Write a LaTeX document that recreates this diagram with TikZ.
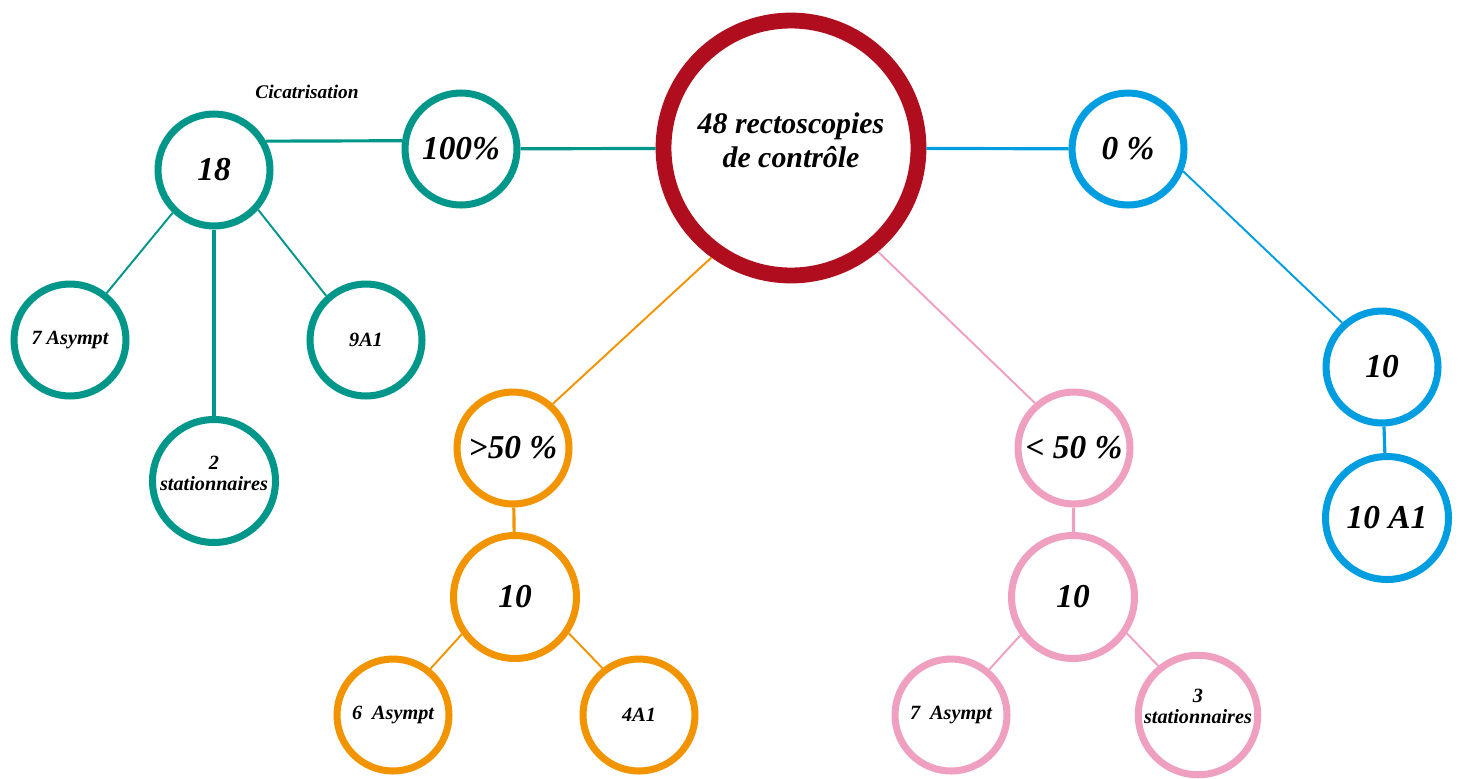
\documentclass[tikz,border=0pt]{standalone}
\usepackage{fontspec}
\setmainfont{Liberation Serif}
\definecolor{cteal}{RGB}{0,150,137}
\definecolor{cred}{RGB}{176,13,30}
\definecolor{cblue}{RGB}{0,158,224}
\definecolor{corange}{RGB}{242,148,0}
\definecolor{cpink}{RGB}{239,160,193}

\begin{document}
\begin{tikzpicture}[x=0.02cm,y=-0.02cm,
	every node/.style={black},
	bubble/.style={circle,draw,line width=4pt,minimum size=2.24cm,inner sep=0pt,align=center},
	bigbubble/.style={bubble,minimum size=2.46cm},
	bigtxt/.style={font=\fontsize{19}{22}\selectfont\bfseries\itshape},
	smalltxt/.style={font=\fontsize{11.5}{12}\selectfont\bfseries\itshape},
	link/.style={line width=1.1pt},
	stem/.style={line width=1.8pt}]
	\useasboundingbox (0,0) rectangle (1462,778);

	% centre
	\node[bubble,draw=cred,line width=9pt,minimum size=5.1cm,
		font=\fontsize{17}{19}\selectfont\bfseries\itshape] (main) at (791,148) {48 rectoscopies\\de contrôle\\[-10pt]};

	% cicatrisation
	\node[bubble,draw=cteal,bigtxt] (p100) at (461,149) {100\%};
	\node[bubble,draw=cteal,bigtxt] (n18) at (214,170) {18};
	\node[font=\fontsize{11}{13}\selectfont\bfseries\itshape] (cic) at (307,92) {Cicatrisation};
	\node[bubble,draw=cteal,smalltxt] (asy7) at (70,340) {7 Asympt};
	\node[bubble,draw=cteal,smalltxt] (a9) at (366,340) {9A1};
	\node[bigbubble,draw=cteal,smalltxt] (stat2) at (214,481) {2\\stationnaires\\[-3pt]};
	\draw[cteal,stem] (n18.29) -- (p100.172);
	\draw[cteal,stem] (p100) -- (main);
	\draw[cteal,link] (n18.226) -- (asy7.52);
	\draw[cteal,link] (n18.318) -- (a9.132);
	\draw[cteal,stem] (n18) -- (stat2);

	% 0 %
	\node[bubble,draw=cblue,bigtxt] (p0) at (1128,149) {0 \%};
	\node[bubble,draw=cblue,bigtxt] (b10) at (1382,367) {10};
	\node[bigbubble,draw=cblue,bigtxt] (b10a1) at (1387,518) {10 A1};
	\draw[cblue,stem] (main) -- (p0);
	\draw[cblue,link] (p0.-22) -- (b10.132);
	\draw[cblue,stem] (b10) -- (b10a1);

	% > 50 %
	\node[bubble,draw=corange,bigtxt] (sup50) at (513,448) {>50 \%};
	\node[bigbubble,draw=corange,bigtxt] (o10) at (515,597) {10};
	\node[bubble,draw=corange,smalltxt] (asy6) at (393,715) {6~~Asympt};
	\node[bubble,draw=corange,smalltxt] (a4) at (639,715) {4A1};
	\draw[corange,link] (main.234) -- (sup50.48);
	\draw[corange,stem] (sup50) -- (o10);
	\draw[corange,link] (o10.215) -- (asy6.51);
	\draw[corange,link] (o10.326) -- (a4.128);

	% < 50 %
	\node[bubble,draw=cpink,bigtxt] (inf50) at (1074,448) {< 50 \%};
	\node[bigbubble,draw=cpink,bigtxt] (k10) at (1073,597) {10};
	\node[bubble,draw=cpink,smalltxt] (asy7b) at (951,715) {7~~Asympt};
	\node[bubble,draw=cpink,smalltxt] (stat3) at (1198,715) {3\\stationnaires\\[-2pt]};
	\draw[cpink,link] (main.310) -- (inf50.131);
	\draw[cpink,stem] (inf50) -- (k10);
	\draw[cpink,link] (k10.216) -- (asy7b.50);
	\draw[cpink,link] (k10.326) -- (stat3.129);
\end{tikzpicture}
\end{document}
